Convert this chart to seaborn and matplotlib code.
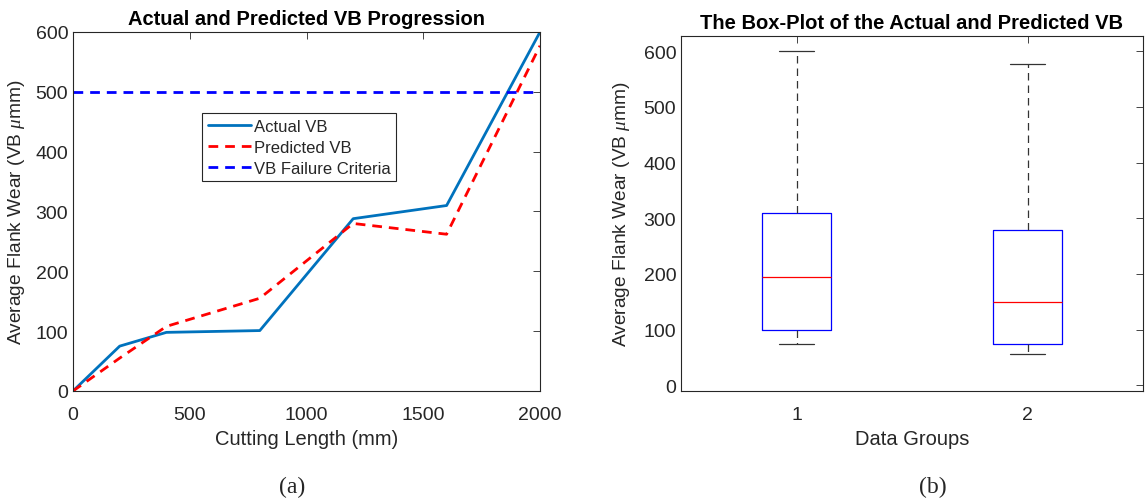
import matplotlib
matplotlib.use("Agg")
import matplotlib.pyplot as plt
import seaborn as sns
import pandas as pd

# ---- data ----
cutting_length = [0, 200, 400, 800, 1200, 1600, 2000]
actual_vb = [0, 75, 98, 101, 288, 310, 600]
predicted_vb = [0, 55, 108, 155, 280, 262, 577]
failure_criteria = 500

group_labels = ["1", "2"]
# five-number summaries (min, Q1, median, Q3, max)
group1_values = [75, 99, 195, 310, 600]
group2_values = [56, 75, 150, 278, 577]

sns.set_style("white")
plt.rcParams['font.family'] = ['Liberation Sans', 'DejaVu Sans']
plt.rcParams['mathtext.fontset'] = 'custom'
plt.rcParams['mathtext.it'] = 'Liberation Serif:italic'

TXT = '#262626'
fig = plt.figure(figsize=(11.46, 5.02), dpi=100)
ax1 = fig.add_axes([73/1146, 110/502, 467/1146, 359/502])
ax2 = fig.add_axes([681/1146, 110/502, 462/1146, 355/502])

# ---- left: line plot ----
df = pd.DataFrame({"x": cutting_length, "a": actual_vb, "p": predicted_vb})
sns.lineplot(data=df, x="x", y="a", ax=ax1, color="#0072BD", lw=2, label="Actual VB")
sns.lineplot(data=df, x="x", y="p", ax=ax1, color="red", lw=2, linestyle=(0, (3.5, 2.5)), label="Predicted VB")
ax1.axhline(failure_criteria, color="blue", lw=2, linestyle=(0, (3.5, 2.5)), label="VB Failure Criteria")
ax1.set_xlim(0, 2000)
ax1.set_ylim(0, 600)
ax1.set_xticks([0, 500, 1000, 1500, 2000])
ax1.set_yticks([0, 100, 200, 300, 400, 500, 600])
ax1.set_title("Actual and Predicted VB Progression", fontsize=14.5, fontweight='bold', color='black', pad=6)
ax1.set_xlabel("Cutting Length (mm)", fontsize=14.5, color=TXT, labelpad=4)
ax1.set_ylabel(r"Average Flank Wear (VB $\mu$mm)", fontsize=13.8, color=TXT, labelpad=6)
leg = ax1.legend(loc='upper left', bbox_to_anchor=(0.276, 0.774), fontsize=12, frameon=True,
                 fancybox=False, edgecolor='#262626', framealpha=1, handlelength=2.6,
                 handletextpad=0.15, borderpad=0.35, labelspacing=0.35, borderaxespad=0)
leg.get_frame().set_linewidth(0.8)

# ---- right: box plot ----
bdf = pd.DataFrame({
    "group": [group_labels[0]] * len(group1_values) + [group_labels[1]] * len(group2_values),
    "value": group1_values + group2_values,
})
sns.boxplot(data=bdf, x="group", y="value", ax=ax2, width=0.3, fill=False, linecolor="blue",
            linewidth=0.9, whis=1.5, showfliers=False,
            boxprops={"color": "blue"},
            medianprops={"color": "red", "linewidth": 0.9},
            whiskerprops={"color": "#333333", "linestyle": (0, (6, 4)), "linewidth": 0.9},
            capprops={"color": "#333333", "linewidth": 0.9})
ax2.set_xlim(-0.5, 1.5)
ax2.set_ylim(-10, 627)
ax2.set_yticks([0, 100, 200, 300, 400, 500, 600])
ax2.set_title("The Box-Plot of the Actual and Predicted VB", fontsize=14.5, fontweight='bold', color='black', pad=6)
ax2.set_xlabel("Data Groups", fontsize=14.5, color=TXT, labelpad=4)
ax2.set_ylabel(r"Average Flank Wear (VB $\mu$mm)", fontsize=13.8, color=TXT, labelpad=8)

for ax in (ax1, ax2):
    for s in ax.spines.values():
        s.set_visible(True)
        s.set_color('#262626')
        s.set_linewidth(0.8)
    ax.tick_params(direction='in', length=5, width=0.6, colors='#262626', labelsize=14,
                   top=True, right=True, labelcolor=TXT)
    ax.tick_params(axis='x', pad=11)

fig.text(292/1146, 1 - 487/502, "(a)", ha='center', va='center', fontsize=17, family='Liberation Serif')
fig.text(933/1146, 1 - 487/502, "(b)", ha='center', va='center', fontsize=17, family='Liberation Serif')

fig.savefig("out.png", dpi=100)
